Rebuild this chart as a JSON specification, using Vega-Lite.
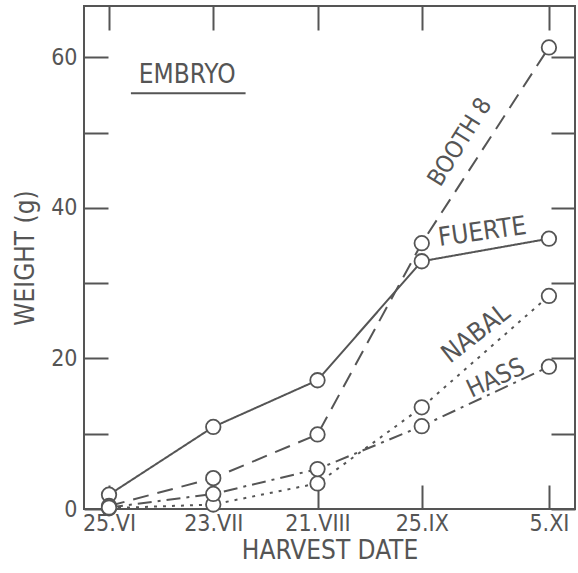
{
  "$schema": "https://vega.github.io/schema/vega-lite/v6.json",
  "width": 491,
  "height": 503,
  "autosize": {"type": "none"},
  "padding": {"left": 84, "top": 6, "right": 3, "bottom": 64},
  "background": "white",
  "config": {
    "view": {"stroke": "#555", "strokeWidth": 2},
    "font": "DejaVu Sans Condensed",
    "axis": {
      "labelFont": "DejaVu Sans Condensed",
      "titleFont": "DejaVu Sans Condensed",
      "labelColor": "#555",
      "titleColor": "#555",
      "tickColor": "#555",
      "tickWidth": 2,
      "titleFontWeight": "normal",
      "grid": false,
      "domain": false,
      "labelFontSize": 23,
      "titleFontSize": 26
    }
  },
  "datasets": {
    "series": [
      {"variety": "Fuerte", "t": 0, "weight": 1.9},
      {"variety": "Fuerte", "t": 1, "weight": 10.9},
      {"variety": "Fuerte", "t": 2, "weight": 17.1},
      {"variety": "Fuerte", "t": 3, "weight": 32.9},
      {"variety": "Fuerte", "t": 4.22, "weight": 35.9},
      {"variety": "Booth 8", "t": 0, "weight": 0.4},
      {"variety": "Booth 8", "t": 1, "weight": 4.1},
      {"variety": "Booth 8", "t": 2, "weight": 9.9},
      {"variety": "Booth 8", "t": 3, "weight": 35.3},
      {"variety": "Booth 8", "t": 4.22, "weight": 61.3},
      {"variety": "Nabal", "t": 0, "weight": 0.1},
      {"variety": "Nabal", "t": 1, "weight": 0.6},
      {"variety": "Nabal", "t": 2, "weight": 3.4},
      {"variety": "Nabal", "t": 3, "weight": 13.5},
      {"variety": "Nabal", "t": 4.22, "weight": 28.3},
      {"variety": "Hass", "t": 0, "weight": 0.2},
      {"variety": "Hass", "t": 1, "weight": 2.0},
      {"variety": "Hass", "t": 2, "weight": 5.3},
      {"variety": "Hass", "t": 3, "weight": 11.0},
      {"variety": "Hass", "t": 4.22, "weight": 18.9}
    ],
    "labels": [
      {"name": "EMBRYO", "t": 0.75, "weight": 57.7},
      {"name": "BOOTH 8", "t": 3.37, "weight": 48.7},
      {"name": "FUERTE", "t": 3.58, "weight": 36.8},
      {"name": "NABAL", "t": 3.52, "weight": 23.3},
      {"name": "HASS", "t": 3.71, "weight": 17.4}
    ],
    "underline": [{"t": 0.21, "t2": 1.31, "weight": 55.2}]
  },
  "layer": [
    {
      "data": {"name": "series"},
      "mark": {"type": "line", "color": "#555", "strokeWidth": 2},
      "encoding": {
        "x": {
          "field": "t", "type": "quantitative",
          "scale": {"domain": [-0.24, 4.47], "nice": false, "zero": false},
          "axis": {
            "orient": "bottom",
            "values": [0, 1, 2, 3, 4.22],
            "labelExpr": "datum.value == 0 ? '25.VI' : datum.value == 1 ? '23.VII' : datum.value == 2 ? '21.VIII' : datum.value == 3 ? '25.IX' : '5.XI'",
            "tickSize": -24,
            "labelPadding": 27,
            "title": "HARVEST DATE",
            "titlePadding": 2
          }
        },
        "y": {
          "field": "weight", "type": "quantitative",
          "scale": {"domain": [0, 66.8], "nice": false},
          "axis": {
            "orient": "left",
            "values": [0, 10, 20, 30, 40, 50, 60],
            "labelExpr": "datum.value % 20 == 0 ? datum.label : ''",
            "tickSize": -24,
            "labelPadding": 31,
            "title": "WEIGHT (g)",
            "titlePadding": 12
          }
        },
        "strokeDash": {
          "field": "variety", "type": "nominal",
          "scale": {"domain": ["Fuerte", "Booth 8", "Nabal", "Hass"], "range": [[1, 0], [16, 9], [3, 6], [14, 6, 3, 6]]},
          "legend": null
        }
      }
    },
    {
      "data": {"name": "series"},
      "mark": {"type": "circle", "fill": "white", "stroke": "#555", "strokeWidth": 1.8, "size": 210, "opacity": 1},
      "encoding": {
        "x": {
          "field": "t", "type": "quantitative",
          "axis": {"orient": "top", "values": [0, 1, 2, 3, 4.22], "labels": false, "tickSize": -24, "title": null}
        },
        "y": {
          "field": "weight", "type": "quantitative",
          "axis": {"orient": "right", "values": [0, 10, 20, 30, 40, 50, 60], "labels": false, "tickSize": -24, "title": null}
        },
        "detail": {"field": "variety", "type": "nominal"}
      }
    },
    {
      "data": {"name": "underline"},
      "mark": {"type": "rule", "color": "#555", "strokeWidth": 2},
      "encoding": {
        "x": {"field": "t", "type": "quantitative", "axis": null},
        "x2": {"field": "t2"},
        "y": {"field": "weight", "type": "quantitative", "axis": null}
      }
    },
    {
      "data": {"name": "labels"},
      "transform": [{"filter": "datum.name == 'EMBRYO'"}],
      "mark": {"type": "text", "fontSize": 26, "color": "#555", "align": "center", "baseline": "middle"},
      "encoding": {
        "x": {"field": "t", "type": "quantitative", "axis": null},
        "y": {"field": "weight", "type": "quantitative", "axis": null},
        "text": {"field": "name"}
      }
    },
    {
      "data": {"name": "labels"},
      "transform": [{"filter": "datum.name == 'BOOTH 8'"}],
      "mark": {"type": "text", "fontSize": 24, "color": "#555", "align": "center", "baseline": "middle", "angle": -58},
      "encoding": {
        "x": {"field": "t", "type": "quantitative", "axis": null},
        "y": {"field": "weight", "type": "quantitative", "axis": null},
        "text": {"field": "name"}
      }
    },
    {
      "data": {"name": "labels"},
      "transform": [{"filter": "datum.name == 'FUERTE'"}],
      "mark": {"type": "text", "fontSize": 26, "color": "#555", "align": "center", "baseline": "middle", "angle": -8},
      "encoding": {
        "x": {"field": "t", "type": "quantitative", "axis": null},
        "y": {"field": "weight", "type": "quantitative", "axis": null},
        "text": {"field": "name"}
      }
    },
    {
      "data": {"name": "labels"},
      "transform": [{"filter": "datum.name == 'NABAL'"}],
      "mark": {"type": "text", "fontSize": 26, "color": "#555", "align": "center", "baseline": "middle", "angle": -38},
      "encoding": {
        "x": {"field": "t", "type": "quantitative", "axis": null},
        "y": {"field": "weight", "type": "quantitative", "axis": null},
        "text": {"field": "name"}
      }
    },
    {
      "data": {"name": "labels"},
      "transform": [{"filter": "datum.name == 'HASS'"}],
      "mark": {"type": "text", "fontSize": 25, "color": "#555", "align": "center", "baseline": "middle", "angle": -25},
      "encoding": {
        "x": {"field": "t", "type": "quantitative", "axis": null},
        "y": {"field": "weight", "type": "quantitative", "axis": null},
        "text": {"field": "name"}
      }
    }
  ],
  "resolve": {"axis": {"x": "independent", "y": "independent"}}
}
